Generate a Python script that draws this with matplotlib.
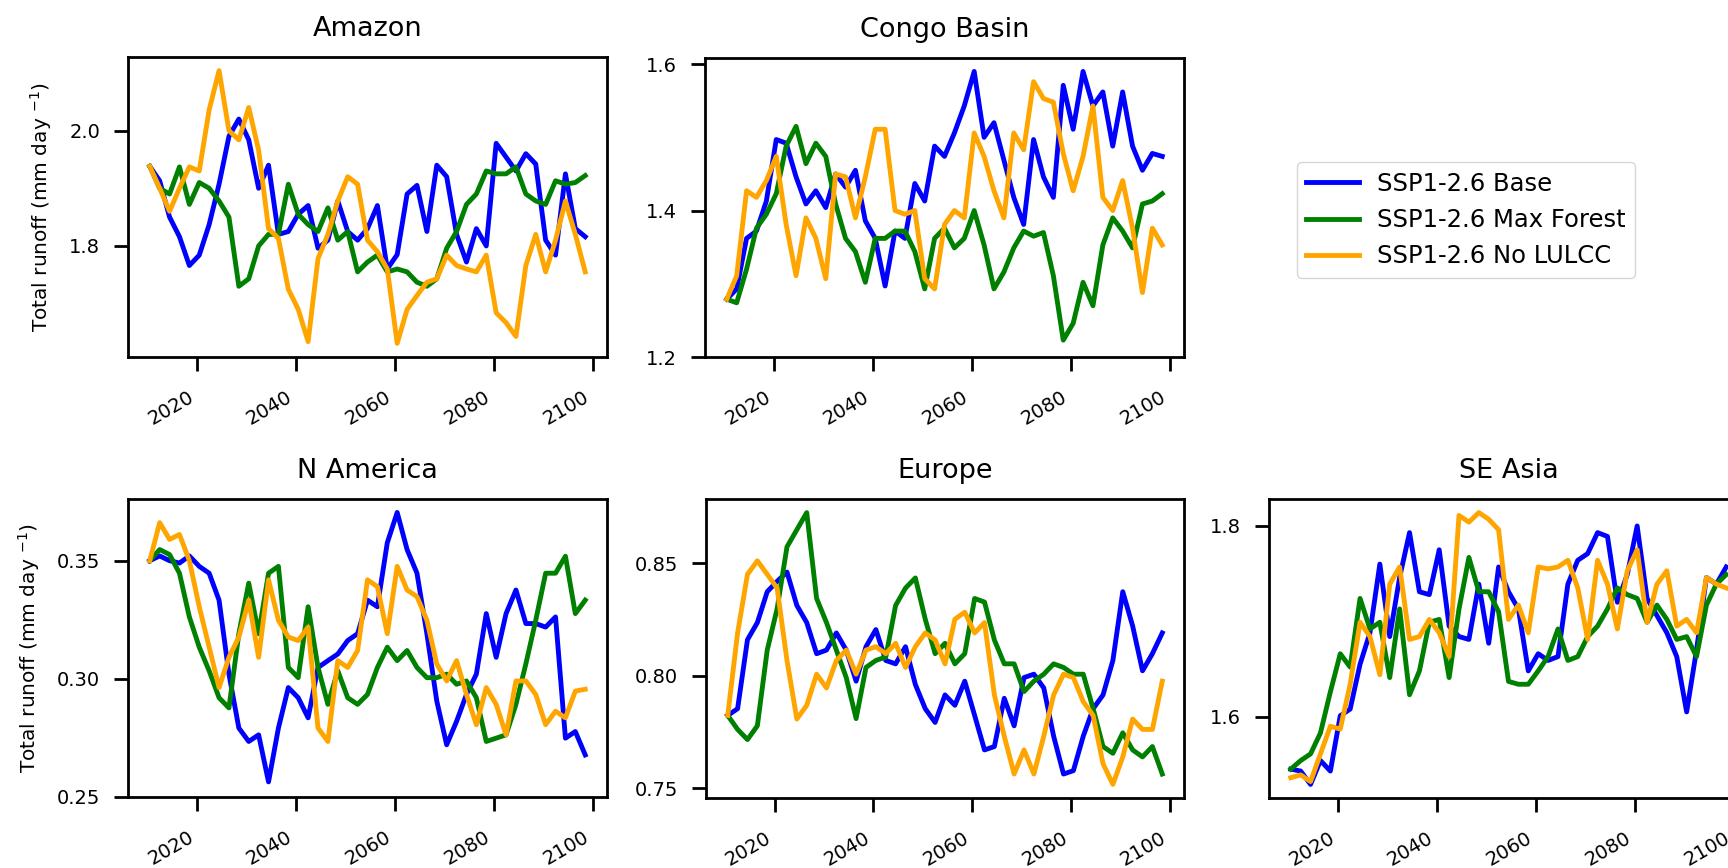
"""Total runoff for five regions under three SSP1-2.6 land-use scenarios."""
import matplotlib.pyplot as plt
import numpy as np

# Mid-year time axis (two-year sampling)
years = np.arange(2010.5, 2099.0, 2.0)

scenarios = ["SSP1-2.6 Base", "SSP1-2.6 Max Forest", "SSP1-2.6 No LULCC"]
colors = ["blue", "green", "orange"]

regions = ["Amazon", "Congo Basin", "N America", "Europe", "SE Asia"]

amazon_base = [
    1.938, 1.913, 1.85, 1.816, 1.766, 1.784, 1.837, 1.907, 1.99, 2.02,
    1.984, 1.90, 1.94, 1.82, 1.825, 1.855, 1.87, 1.796, 1.81, 1.878,
    1.825, 1.81, 1.83, 1.87, 1.76, 1.785, 1.89, 1.905, 1.825, 1.94,
    1.92, 1.82, 1.772, 1.83, 1.80, 1.978, 1.954, 1.93, 1.96, 1.942,
    1.81, 1.784, 1.925, 1.83, 1.816,
]
amazon_maxforest = [
    1.938, 1.90, 1.89, 1.937, 1.872, 1.91, 1.90, 1.878, 1.85, 1.73,
    1.743, 1.80, 1.82, 1.82, 1.907, 1.855, 1.837, 1.825, 1.866, 1.81,
    1.825, 1.755, 1.772, 1.784, 1.755, 1.76, 1.755, 1.737, 1.73, 1.743,
    1.796, 1.825, 1.872, 1.89, 1.93, 1.925, 1.925, 1.937, 1.89, 1.878,
    1.872, 1.913, 1.907, 1.91, 1.922,
]
amazon_nolulcc = [
    1.938, 1.90, 1.86, 1.90, 1.937, 1.93, 2.036, 2.104, 2.0, 1.984,
    2.04, 1.966, 1.83, 1.813, 1.725, 1.69, 1.634, 1.778, 1.82, 1.878,
    1.92, 1.907, 1.81, 1.79, 1.76, 1.631, 1.69, 1.714, 1.737, 1.743,
    1.784, 1.766, 1.76, 1.755, 1.784, 1.684, 1.667, 1.643, 1.766, 1.82,
    1.755, 1.81, 1.878, 1.82, 1.755,
]

congo_base = [
    1.279, 1.293, 1.362, 1.372, 1.413, 1.497, 1.492, 1.446, 1.409, 1.427,
    1.404, 1.45, 1.432, 1.455, 1.386, 1.362, 1.297, 1.372, 1.362, 1.437,
    1.413, 1.488, 1.474, 1.506, 1.543, 1.59, 1.50, 1.52, 1.469, 1.418,
    1.381, 1.497, 1.446, 1.418, 1.571, 1.511, 1.59, 1.543, 1.562, 1.488,
    1.562, 1.488, 1.455, 1.478, 1.474,
]
congo_maxforest = [
    1.279, 1.274, 1.32, 1.376, 1.395, 1.423, 1.488, 1.515, 1.464, 1.492,
    1.474, 1.409, 1.362, 1.344, 1.302, 1.362, 1.362, 1.372, 1.372, 1.344,
    1.293, 1.362, 1.376, 1.349, 1.362, 1.40, 1.353, 1.293, 1.316, 1.349,
    1.372, 1.365, 1.37, 1.311, 1.223, 1.246, 1.302, 1.27, 1.353, 1.39,
    1.372, 1.349, 1.409, 1.413, 1.423,
]
congo_nolulcc = [
    1.279, 1.311, 1.427, 1.418, 1.441, 1.474, 1.381, 1.311, 1.39, 1.362,
    1.307, 1.45, 1.446, 1.39, 1.446, 1.511, 1.511, 1.40, 1.395, 1.40,
    1.307, 1.293, 1.381, 1.40, 1.39, 1.506, 1.474, 1.427, 1.39, 1.506,
    1.483, 1.576, 1.553, 1.548, 1.478, 1.427, 1.474, 1.543, 1.418, 1.40,
    1.441, 1.376, 1.288, 1.376, 1.353,
]

namerica_base = [
    0.350, 0.352, 0.350, 0.349, 0.352, 0.3476, 0.3447, 0.3333, 0.302, 0.2792,
    0.2735, 0.2763, 0.2564, 0.2792, 0.2963, 0.292, 0.2835, 0.3048, 0.3077, 0.3105,
    0.3162, 0.3191, 0.3333, 0.3305, 0.3576, 0.3704, 0.3547, 0.3447, 0.3191, 0.2906,
    0.2721, 0.282, 0.2934, 0.302, 0.3276, 0.3091, 0.3276, 0.3376, 0.3234, 0.3234,
    0.3219, 0.3262, 0.2749, 0.2777, 0.2678,
]
namerica_maxforest = [
    0.350, 0.3547, 0.3526, 0.3447, 0.3262, 0.3134, 0.3034, 0.292, 0.2877, 0.3191,
    0.3405, 0.3191, 0.3447, 0.3476, 0.3048, 0.3005, 0.3305, 0.3048, 0.2892, 0.3034,
    0.292, 0.2892, 0.2934, 0.3048, 0.3134, 0.3077, 0.312, 0.3048, 0.3005, 0.3005,
    0.302, 0.2977, 0.2991, 0.292, 0.2735, 0.2749, 0.2763, 0.2892, 0.3063, 0.3248,
    0.3447, 0.3447, 0.3519, 0.3276, 0.3333,
]
namerica_nolulcc = [
    0.350, 0.3661, 0.359, 0.3611, 0.350, 0.3305, 0.3134, 0.2963, 0.3091, 0.3177,
    0.3333, 0.3091, 0.3419, 0.3248, 0.3177, 0.3162, 0.3219, 0.2792, 0.2735, 0.3077,
    0.3048, 0.312, 0.3419, 0.339, 0.3191, 0.3476, 0.3376, 0.3348, 0.3248, 0.3063,
    0.2991, 0.3077, 0.2934, 0.2806, 0.2963, 0.2892, 0.2763, 0.2991, 0.2991, 0.2934,
    0.2806, 0.2863, 0.2835, 0.2948, 0.2956,
]

europe_base = [
    0.7824, 0.7854, 0.816, 0.8236, 0.8373, 0.8419, 0.846, 0.8312, 0.8236, 0.8098,
    0.8114, 0.819, 0.8114, 0.7976, 0.8129, 0.8205, 0.8068, 0.8053, 0.8129, 0.7961,
    0.7854, 0.7793, 0.7915, 0.7869, 0.7976, 0.7824, 0.7671, 0.7686, 0.790, 0.7778,
    0.7992, 0.8007, 0.7946, 0.7732, 0.7564, 0.7579, 0.7732, 0.7854, 0.7915, 0.8068,
    0.8373, 0.8221, 0.8022, 0.8098, 0.819,
]
europe_maxforest = [
    0.7824, 0.7762, 0.7717, 0.7778, 0.8114, 0.8297, 0.8572, 0.8648, 0.8724, 0.8343,
    0.8236, 0.8114, 0.7992, 0.781, 0.8037, 0.8068, 0.8083, 0.8312, 0.8389, 0.8434,
    0.8251, 0.8098, 0.8144, 0.8053, 0.8098, 0.8343, 0.8327, 0.8159, 0.8053, 0.8053,
    0.793, 0.7976, 0.8007, 0.8053, 0.8037, 0.8007, 0.8007, 0.7854, 0.7686, 0.7656,
    0.7747, 0.7671, 0.764, 0.7686, 0.7564,
]
europe_nolulcc = [
    0.7824, 0.819, 0.845, 0.851, 0.845, 0.8389, 0.8068, 0.7808, 0.7869, 0.8007,
    0.7946, 0.8068, 0.8114, 0.8007, 0.8114, 0.8129, 0.8098, 0.8144, 0.8037, 0.8129,
    0.819, 0.8159, 0.8053, 0.8251, 0.8282, 0.819, 0.8236, 0.7915, 0.7732, 0.7564,
    0.7671, 0.7564, 0.7732, 0.7915, 0.8007, 0.7992, 0.7885, 0.7824, 0.761, 0.7518,
    0.764, 0.7808, 0.7762, 0.7762, 0.7976,
]

seasia_base = [
    1.545, 1.543, 1.529, 1.554, 1.543, 1.601, 1.608, 1.655, 1.688, 1.76,
    1.684, 1.746, 1.793, 1.731, 1.728, 1.775, 1.695, 1.684, 1.681, 1.739,
    1.677, 1.757, 1.731, 1.713, 1.648, 1.666, 1.659, 1.663, 1.739, 1.764,
    1.771, 1.793, 1.789, 1.72, 1.749, 1.80, 1.724, 1.706, 1.688, 1.663,
    1.605, 1.67, 1.746, 1.739, 1.757,
]
seasia_maxforest = [
    1.545, 1.554, 1.561, 1.583, 1.626, 1.666, 1.652, 1.724, 1.692, 1.699,
    1.641, 1.713, 1.623, 1.648, 1.699, 1.702, 1.641, 1.713, 1.767, 1.731,
    1.731, 1.71, 1.637, 1.634, 1.634, 1.648, 1.663, 1.692, 1.659, 1.663,
    1.684, 1.695, 1.713, 1.735, 1.728, 1.724, 1.699, 1.717, 1.702, 1.681,
    1.684, 1.663, 1.717, 1.739, 1.749,
]
seasia_nolulcc = [
    1.536, 1.539, 1.532, 1.561, 1.59, 1.587, 1.634, 1.699, 1.684, 1.644,
    1.739, 1.757, 1.681, 1.684, 1.702, 1.688, 1.663, 1.811, 1.804, 1.814,
    1.807, 1.796, 1.702, 1.717, 1.688, 1.757, 1.755, 1.757, 1.764, 1.735,
    1.681, 1.764, 1.739, 1.692, 1.753, 1.775, 1.699, 1.739, 1.753, 1.695,
    1.702, 1.688, 1.746, 1.739, 1.735,
]

# y tick locations per region
yticks = {
    "Amazon": [1.8, 2.0],
    "Congo Basin": [1.2, 1.4, 1.6],
    "N America": [0.25, 0.30, 0.35],
    "Europe": [0.75, 0.80, 0.85],
    "SE Asia": [1.6, 1.8],
}
xticks = [2020, 2040, 2060, 2080, 2100]


def main():

    series = {
        "Amazon": [amazon_base, amazon_maxforest, amazon_nolulcc],
        "Congo Basin": [congo_base, congo_maxforest, congo_nolulcc],
        "N America": [namerica_base, namerica_maxforest, namerica_nolulcc],
        "Europe": [europe_base, europe_maxforest, europe_nolulcc],
        "SE Asia": [seasia_base, seasia_maxforest, seasia_nolulcc],
    }

    # Axes boxes in pixels (left, top, right, bottom) on a 1728x868 canvas;
    # the SE Asia panel runs past the right edge, as in the original figure
    W, H = 1728.0, 868.0
    boxes = {
        "Amazon": (128, 57, 607, 357),
        "Congo Basin": (705, 58, 1184, 357),
        "N America": (128, 499, 607, 797),
        "Europe": (706, 499, 1184, 798),
        "SE Asia": (1269, 499, 1748, 798),
    }

    fig = plt.figure(figsize=(W / 100, H / 100), dpi=100)

    handles = []
    for region in regions:
        l, t, r, b = boxes[region]
        ax = fig.add_axes([l / W, 1 - b / H, (r - l) / W, (b - t) / H])

        for vals, col, lab in zip(series[region], colors, scenarios):
            (ln,) = ax.plot(years, vals, color=col, lw=3.5, label=lab)
            if region == "Amazon":
                handles.append(ln)

        ax.set_title(region, fontsize=19.5, pad=15)
        ax.set_xticks(xticks)
        ax.set_yticks(yticks[region])
        ax.yaxis.set_major_formatter(
            plt.FormatStrFormatter("%.2f" if region in ("N America", "Europe") else "%.1f")
        )
        ax.tick_params(axis="both", labelsize=14, length=10, width=2, direction="out")
        ax.tick_params(axis="x", pad=12)
        ax.tick_params(axis="y", pad=10)
        plt.setp(ax.get_xticklabels(), rotation=30, ha="right")
        for sp in ax.spines.values():
            sp.set_linewidth(2)

        if region in ("Amazon", "N America"):
            ax.set_ylabel("Total runoff (mm day $^{-1}$)", fontsize=14.5, labelpad=11)

    fig.legend(
        handles=handles,
        loc="center",
        bbox_to_anchor=(0.8484, 0.7465),
        fontsize=17.5,
        handlelength=2.15,
        handletextpad=0.75,
    )

    fig.savefig("out.png", dpi=100)


if __name__ == "__main__":
    main()
